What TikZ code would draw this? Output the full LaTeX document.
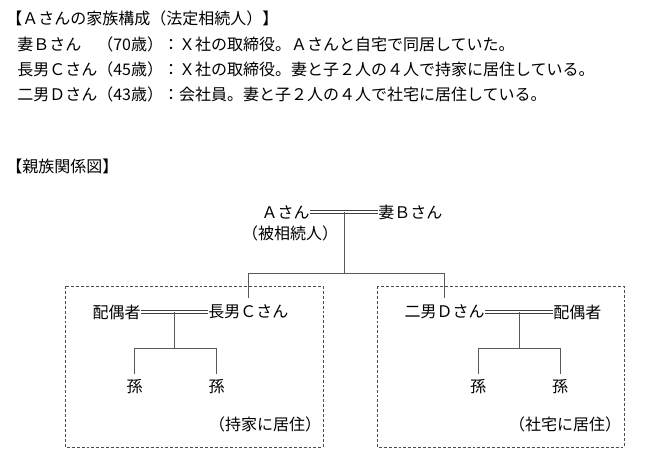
\documentclass[tikz,border=0pt]{standalone}
\usepackage{fontspec}
\setmainfont{Noto Sans CJK JP}
\usepackage{tikz}
\usetikzlibrary{positioning, calc}

\begin{document}
\begin{tikzpicture}[x=0.75pt, y=-0.75pt]
		\tikzstyle{txt}=[inner sep=0pt, text=black, font=\fontsize{12}{14}\selectfont]
		\tikzstyle{rel}=[draw=black!65, line width=0.6pt]
		\tikzstyle{marr}=[draw=black!75, line width=0.6pt]
		\tikzstyle{house}=[draw=black!70, line width=0.5pt, dash pattern=on 2.2pt off 1.5pt]
		\useasboundingbox (0,0) rectangle (668,461);
		
		% family list
		\node (title) at (6,18) [txt, anchor=west] {【Ａさんの家族構成（法定相続人）】};
		\node (lineB) at (17,44) [txt, anchor=west] {妻Ｂさん　（70歳）：Ｘ社の取締役。Ａさんと自宅で同居していた。};
		\node (lineC) at (17,69) [txt, anchor=west] {長男Ｃさん（45歳）：Ｘ社の取締役。妻と子２人の４人で持家に居住している。};
		\node (lineD) at (17,94) [txt, anchor=west] {二男Ｄさん（43歳）：会社員。妻と子２人の４人で社宅に居住している。};
		
		\node (chart) at (6,166) [txt, anchor=west] {【親族関係図】};
		
		% A and B
		\node (A) at (310,212) [txt, anchor=east] {Ａさん};
		\node (B) at (378,212) [txt, anchor=west] {妻Ｂさん};
		\node (Anote) at (290,233) [txt] {（被相続人）};
		\draw[marr] ([yshift=1pt]A.east) -- ([yshift=1pt]B.west);
		\draw[marr] ([yshift=-1pt]A.east) -- ([yshift=-1pt]B.west);
		\coordinate (mAB) at ($(A.east)!0.5!(B.west)$);
		\coordinate (jA) at ($(mAB)+(0,61)$);
		
		% C family
		\node (C) at (208,312) [txt, anchor=west] {長男Ｃさん};
		\node (sC) at (141,312) [txt, anchor=east] {配偶者};
		\draw[marr] ([yshift=1pt]sC.east) -- ([yshift=1pt]C.west);
		\draw[marr] ([yshift=-1pt]sC.east) -- ([yshift=-1pt]C.west);
		\coordinate (mC) at ($(sC.east)!0.5!(C.west)$);
		\coordinate (jC) at ($(mC)+(0,36)$);
		\node (gC1) at ($(mC)+(-40,75)$) [txt] {孫};
		\node (gC2) at ($(mC)+(42,75)$) [txt] {孫};
		\node (homeC) at (265,424) [txt] {（持家に居住）};
		
		% D family
		\node (D) at (485,312) [txt, anchor=east] {二男Ｄさん};
		\node (sD) at (553,312) [txt, anchor=west] {配偶者};
		\draw[marr] ([yshift=1pt]D.east) -- ([yshift=1pt]sD.west);
		\draw[marr] ([yshift=-1pt]D.east) -- ([yshift=-1pt]sD.west);
		\coordinate (mD) at ($(D.east)!0.5!(sD.west)$);
		\coordinate (jD) at ($(mD)+(0,36)$);
		\node (gD1) at ($(mD)+(-41,75)$) [txt] {孫};
		\node (gD2) at ($(mD)+(41,75)$) [txt] {孫};
		\node (homeD) at (565,424) [txt] {（社宅に居住）};
		
		% tree lines
		\draw[rel] (mAB) -- (jA);
		\draw[rel] (C.north |- jA) -- (D.north |- jA);
		\draw[rel, shorten >=5pt] (C.north |- jA) -- (C.north);
		\draw[rel, shorten >=5pt] (D.north |- jA) -- (D.north);
		
		\draw[rel] (mC) -- (jC);
		\draw[rel] (gC1.north |- jC) -- (gC2.north |- jC);
		\draw[rel, shorten >=4.5pt] (gC1.north |- jC) -- (gC1.north);
		\draw[rel, shorten >=4.5pt] (gC2.north |- jC) -- (gC2.north);
		
		\draw[rel] (mD) -- (jD);
		\draw[rel] (gD1.north |- jD) -- (gD2.north |- jD);
		\draw[rel, shorten >=4.5pt] (gD1.north |- jD) -- (gD1.north);
		\draw[rel, shorten >=4.5pt] (gD2.north |- jD) -- (gD2.north);
		
		% households
		\draw[house] (65,286) rectangle (323,447);
		\draw[house] (377,286) rectangle (624,447);
		
\end{tikzpicture}
\end{document}
